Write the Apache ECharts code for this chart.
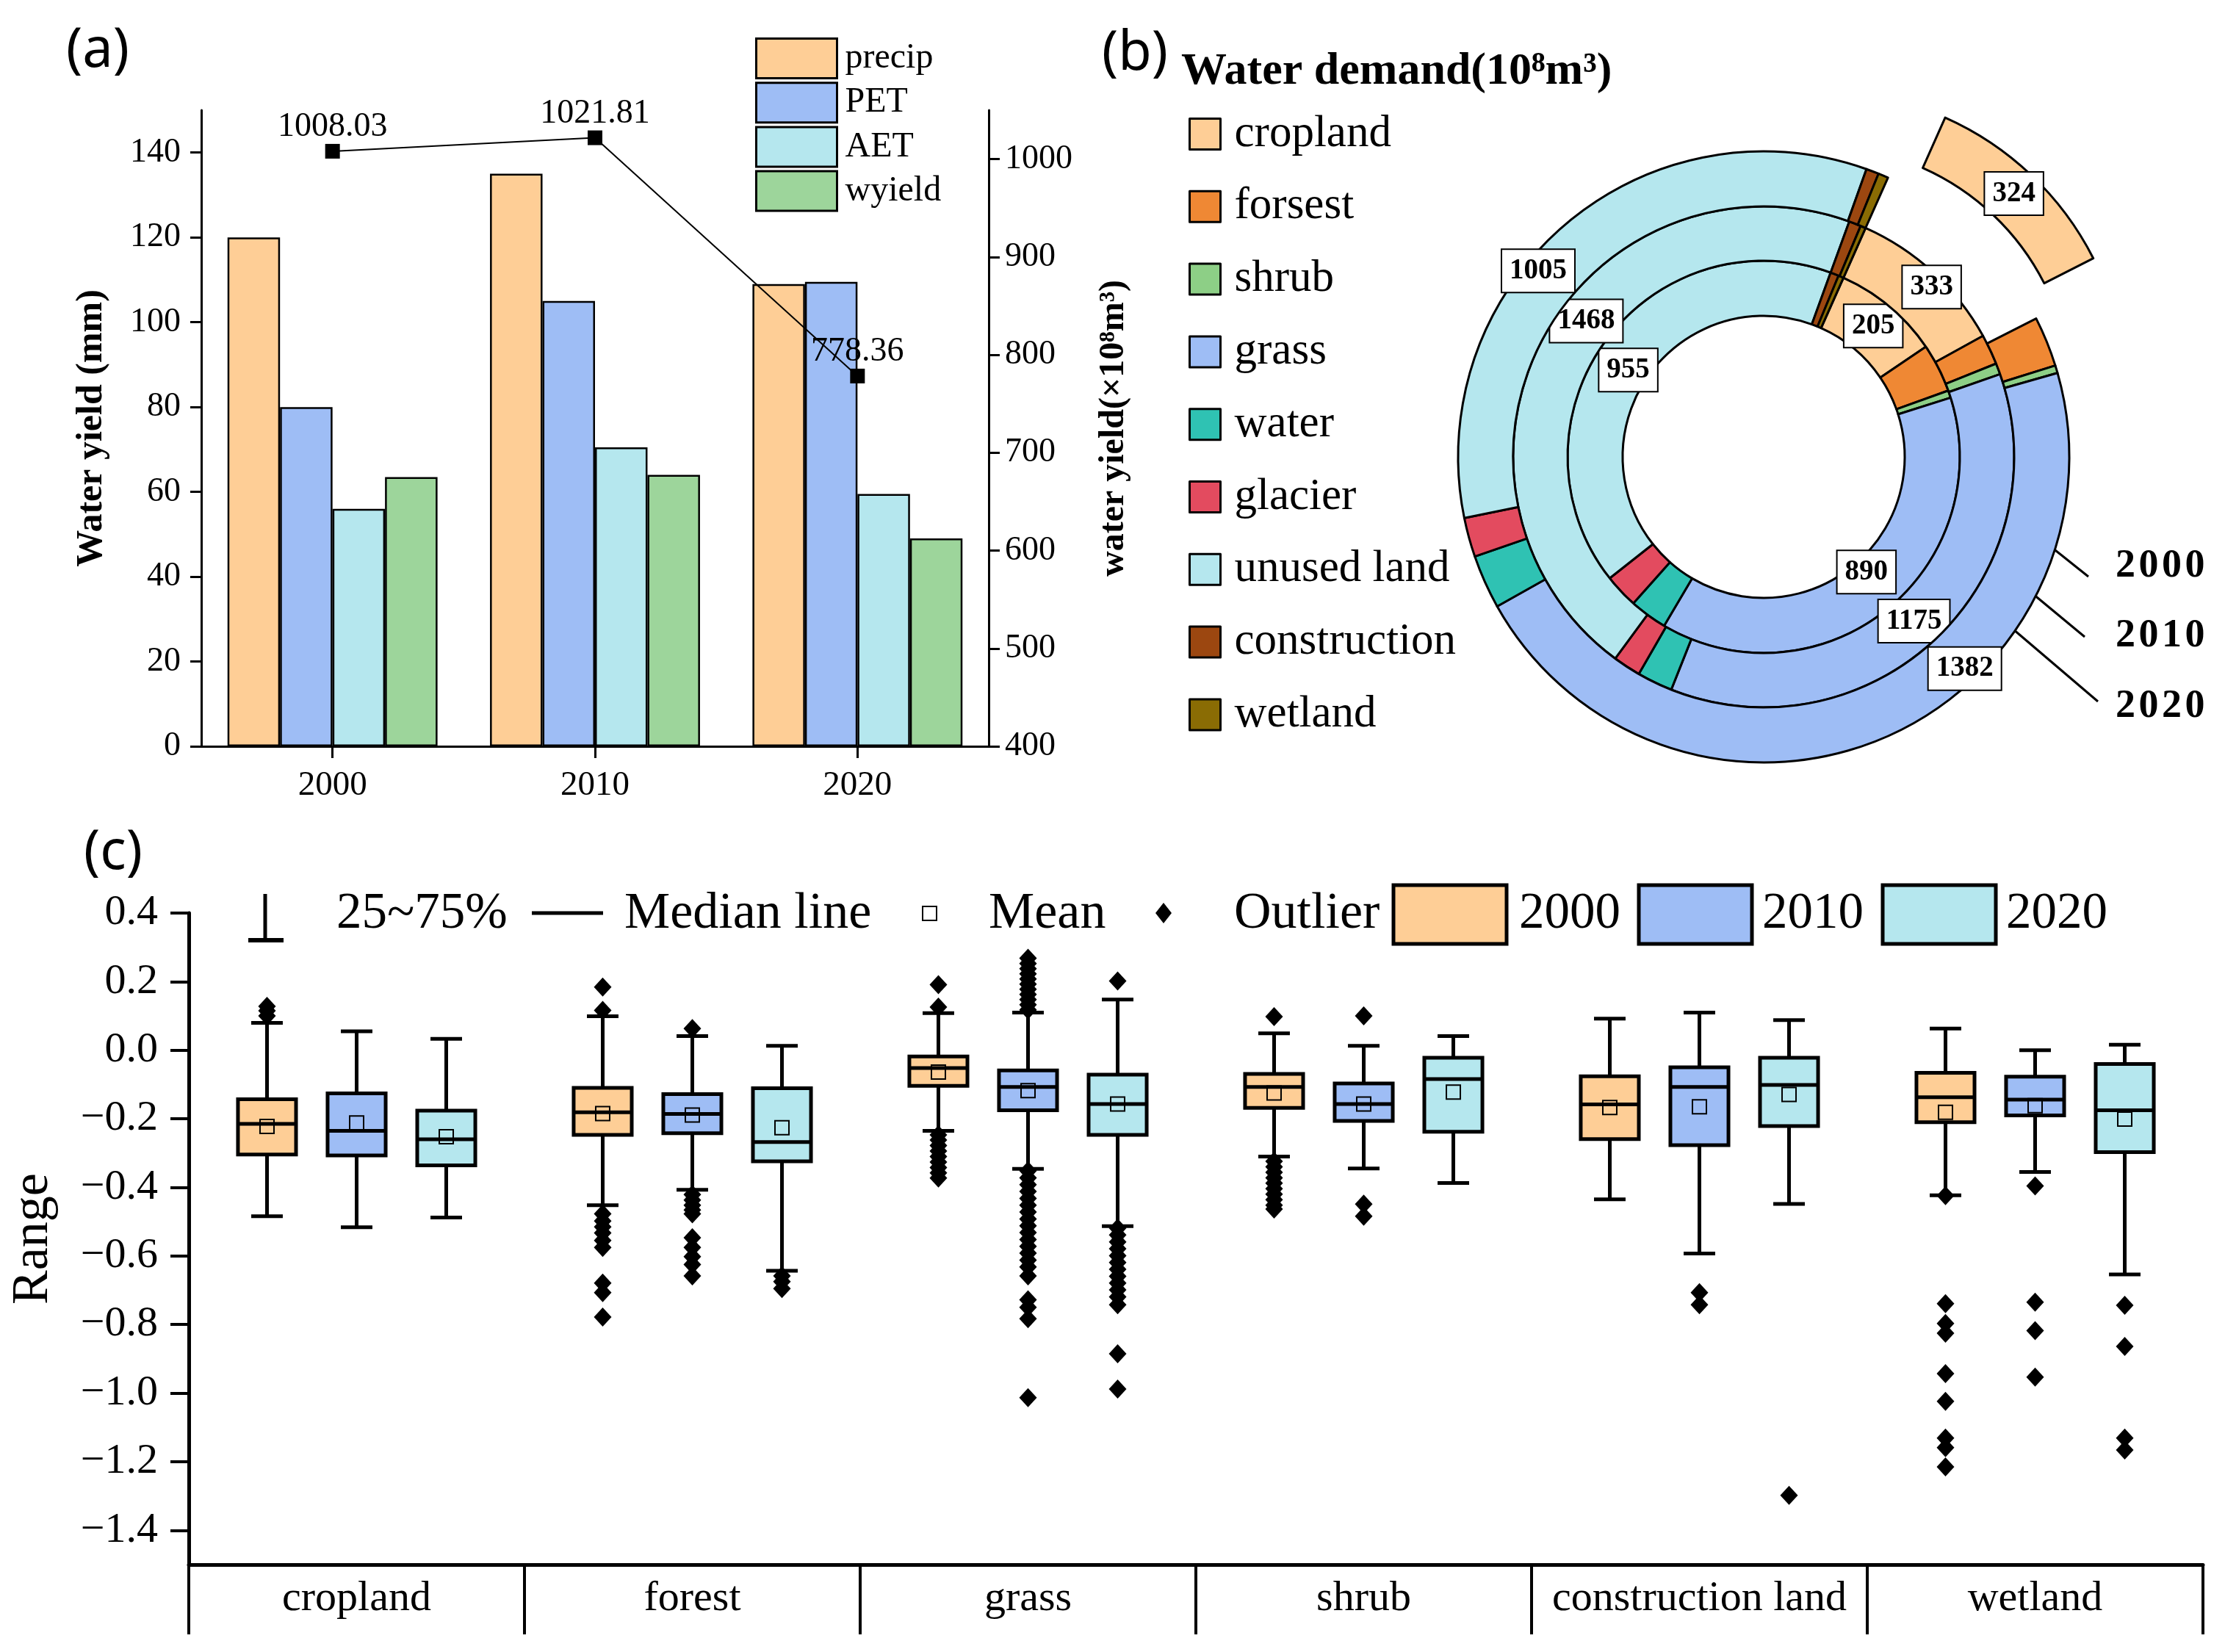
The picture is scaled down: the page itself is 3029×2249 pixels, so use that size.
<!DOCTYPE html>
<html><head><meta charset="utf-8">
<script src="https://cdn.jsdelivr.net/npm/echarts@6/dist/echarts.min.js"></script>
<style>html,body{margin:0;padding:0;background:#fff}#c{width:3029px;height:2249px}</style>
</head><body><div id="c"></div>
<script>
// ---------- Panel (a) ----------
const years = ['2000', '2010', '2020'];
const precip = [120, 135, 109];
const pet = [80, 105, 109.5];
const aet = [56, 70.5, 59.5];
const wyield = [63.5, 64, 49];
const waterYieldTotal = [1008.03, 1021.81, 778.36];
const leftTicks = [0, 20, 40, 60, 80, 100, 120, 140];
const rightTicks = [400, 500, 600, 700, 800, 900, 1000];

// ---------- Panel (b) ----------
const landTypes = ['cropland', 'forsest', 'shrub', 'grass', 'water', 'glacier', 'unused land', 'construction', 'wetland'];
const demand2000 = [205, 93, 14, 890, 72, 65, 955, 16, 10];
const demand2010 = [333, 63, 23, 1175, 74, 58, 1468, 25, 11];
const demand2020 = [324, 79, 12, 1382, 85, 62, 1005, 20, 16];
const labelledTypes = ['cropland', 'grass', 'unused land'];
const ringYears = ['2000', '2010', '2020'];

// ---------- Panel (c) ----------
const boxCategories = ['cropland', 'forest', 'grass', 'shrub', 'construction land', 'wetland'];
const rangeTicks = [-1.4, -1.2, -1.0, -0.8, -0.6, -0.4, -0.2, 0.0, 0.2, 0.4];
// each row: [lower whisker, Q1, median, Q3, upper whisker, mean]
const box2000 = [
  [-0.484, -0.304, -0.215, -0.143, 0.080, -0.222],
  [-0.452, -0.247, -0.181, -0.110, 0.099, -0.185],
  [-0.235, -0.104, -0.052, -0.018, 0.108, -0.064],
  [-0.310, -0.168, -0.107, -0.069, 0.049, -0.125],
  [-0.435, -0.259, -0.158, -0.076, 0.092, -0.167],
  [-0.423, -0.210, -0.137, -0.066, 0.063, -0.181]
];
const box2010 = [
  [-0.516, -0.307, -0.235, -0.126, 0.055, -0.212],
  [-0.407, -0.242, -0.186, -0.128, 0.041, -0.189],
  [-0.346, -0.175, -0.107, -0.059, 0.110, -0.118],
  [-0.345, -0.206, -0.157, -0.097, 0.013, -0.157],
  [-0.593, -0.277, -0.107, -0.050, 0.110, -0.165],
  [-0.355, -0.190, -0.144, -0.077, 0.000, -0.162]
];
const box2020 = [
  [-0.488, -0.336, -0.260, -0.176, 0.033, -0.252],
  [-0.643, -0.324, -0.268, -0.111, 0.013, -0.226],
  [-0.513, -0.247, -0.157, -0.071, 0.148, -0.157],
  [-0.387, -0.238, -0.084, -0.022, 0.041, -0.122],
  [-0.448, -0.221, -0.101, -0.022, 0.088, -0.129],
  [-0.654, -0.297, -0.175, -0.040, 0.016, -0.201]
];
// outliers: [category index, value]
const out2000 = [
  [0, 0.128], [0, 0.115], [0, 0.100],
  [1, 0.184], [1, 0.116], [1, -0.477], [1, -0.498], [1, -0.515], [1, -0.533], [1, -0.555], [1, -0.575], [1, -0.679], [1, -0.707], [1, -0.778],
  [2, 0.191], [2, 0.126], [2, -0.247], [2, -0.262], [2, -0.278], [2, -0.294], [2, -0.31], [2, -0.326], [2, -0.342], [2, -0.358], [2, -0.373],
  [3, 0.098], [3, -0.324], [3, -0.34], [3, -0.356], [3, -0.372], [3, -0.388], [3, -0.404], [3, -0.42], [3, -0.436], [3, -0.452], [3, -0.463],
  [5, -0.424], [5, -0.739], [5, -0.797], [5, -0.825], [5, -0.943], [5, -1.024], [5, -1.131], [5, -1.159], [5, -1.215]
];
const out2010 = [
  [1, 0.063], [1, -0.421], [1, -0.437], [1, -0.452], [1, -0.466], [1, -0.477], [1, -0.547], [1, -0.575], [1, -0.602], [1, -0.625], [1, -0.658],
  [2, 0.118], [2, 0.133], [2, 0.148], [2, 0.163], [2, 0.178], [2, 0.193], [2, 0.208], [2, 0.223], [2, 0.238], [2, 0.253], [2, 0.268],
  [2, -0.352], [2, -0.372], [2, -0.392], [2, -0.412], [2, -0.432], [2, -0.452], [2, -0.472], [2, -0.492], [2, -0.512], [2, -0.532],
  [2, -0.552], [2, -0.572], [2, -0.592], [2, -0.612], [2, -0.632], [2, -0.658], [2, -0.728], [2, -0.75], [2, -0.783], [2, -1.013],
  [3, 0.100], [3, -0.449], [3, -0.484],
  [4, -0.707], [4, -0.742],
  [5, -0.396], [5, -0.735], [5, -0.818], [5, -0.953]
];
const out2020 = [
  [1, -0.658], [1, -0.675], [1, -0.695],
  [2, 0.202], [2, -0.519], [2, -0.539], [2, -0.559], [2, -0.579], [2, -0.599], [2, -0.619], [2, -0.639], [2, -0.659],
  [2, -0.679], [2, -0.699], [2, -0.719], [2, -0.742], [2, -0.885], [2, -0.988],
  [4, -1.298],
  [5, -0.744], [5, -0.864], [5, -1.131], [5, -1.166]
];

const SERIF = '"Liberation Serif", "Times New Roman", serif';
const SANS = '"Noto Sans", "DejaVu Sans", sans-serif';
const C_CROP = '#FECE96', C_PET = '#9EBDF5', C_AET = '#B5E7EE', C_WY = '#9DD59B';
const landColors = ['#FECE96', '#EF8834', '#8DCF86', '#9EBDF5', '#2FC2B3', '#E34B5F', '#B5E7EE', '#9C4710', '#8A6C04'];
const boxColors = [C_CROP, C_PET, C_AET];
// label nudges (pixels) for the value boxes on each ring, keyed by slice index
const labelNudge = [
  {0: [0, 0], 3: [-5, -25], 6: [4, 18]},
  {0: [21, -5], 3: [-8, 2], 6: [29, -40]},
  {0: [0, 0], 3: [127, -64], 6: [-57, 35]}
];

const chart = echarts.init(document.getElementById('c'), null, {renderer: 'canvas'});

function pieData(vals, explodeFirst) {
  return vals.map((v, i) => ({
    name: landTypes[i],
    value: v,
    selected: explodeFirst && i === 0,
    itemStyle: {color: landColors[i]},
    label: {show: labelledTypes.indexOf(landTypes[i]) >= 0}
  }));
}
const pieLabel = {
  show: false, position: 'inside', rotate: 0, formatter: '{c}',
  color: '#000', fontFamily: SERIF, fontWeight: 'bold', fontSize: 39, lineHeight: 39,
  backgroundColor: '#fff', borderColor: '#000', borderWidth: 2, padding: [10, 10, 8, 10]
};
const ringRadii = [[192, 267], [267, 341], [341, 416]];
const ringData = [demand2000, demand2010, demand2020];
const pieSeries = ringData.map((d, k) => ({
  type: 'pie', name: ringYears[k], center: [2401, 622], radius: ringRadii[k],
  startAngle: 66, clockwise: true, avoidLabelOverlap: false,
  selectedMode: k === 2 ? 'single' : false, selectedOffset: 113,
  itemStyle: {borderColor: '#000', borderWidth: 3},
  label: pieLabel, labelLine: {show: false},
  labelLayout: function (p) {
    const n = labelNudge[k][p.dataIndex] || [0, 0];
    return {dx: n[0], dy: n[1], hideOverlap: false, moveOverlap: null};
  },
  emphasis: {disabled: true},
  z: 3 + k,
  data: pieData(d, k === 2)
}));

function boxRender(yi) {
  return function (params, api) {
    const cat = api.value(0);
    const band = api.size([1, 0])[0];
    const cx = api.coord([cat, 0])[0] + (yi - 1) * 0.267 * band;
    const Y = v => api.coord([cat, v])[1];
    const low = Y(api.value(1)), q1 = Y(api.value(2)), med = Y(api.value(3)),
      q3 = Y(api.value(4)), high = Y(api.value(5)), mean = Y(api.value(6));
    const bw = band * 0.173, cw = band * 0.094;
    const ls = {stroke: '#000', lineWidth: 5};
    return {
      type: 'group', children: [
        {type: 'line', shape: {x1: cx, y1: high, x2: cx, y2: q3}, style: ls},
        {type: 'line', shape: {x1: cx, y1: q1, x2: cx, y2: low}, style: ls},
        {type: 'line', shape: {x1: cx - cw / 2, y1: high, x2: cx + cw / 2, y2: high}, style: ls},
        {type: 'line', shape: {x1: cx - cw / 2, y1: low, x2: cx + cw / 2, y2: low}, style: ls},
        {type: 'rect', shape: {x: cx - bw / 2, y: q3, width: bw, height: q1 - q3}, style: {fill: boxColors[yi], stroke: '#000', lineWidth: 5}},
        {type: 'line', shape: {x1: cx - bw / 2, y1: med, x2: cx + bw / 2, y2: med}, style: ls},
        {type: 'rect', shape: {x: cx - 9.5, y: mean - 9.5, width: 19, height: 19}, style: {fill: 'none', stroke: '#000', lineWidth: 2}}
      ]
    };
  };
}
function outRender(yi) {
  return function (params, api) {
    const cat = api.value(0);
    const band = api.size([1, 0])[0];
    const p = api.coord([cat, api.value(1)]);
    const cx = p[0] + (yi - 1) * 0.267 * band, cy = p[1];
    return {type: 'polygon', shape: {points: [[cx, cy - 13], [cx + 12, cy], [cx, cy + 13], [cx - 12, cy]]}, style: {fill: '#000'}};
  };
}
const boxSets = [box2000, box2010, box2020];
const outSets = [out2000, out2010, out2020];
const boxSeries = [];
boxSets.forEach((b, yi) => {
  boxSeries.push({
    type: 'custom', name: 'box' + ringYears[yi], xAxisIndex: 1, yAxisIndex: 2,
    renderItem: boxRender(yi), encode: {x: 0, y: [1, 2, 3, 4, 5, 6]},
    data: b.map((r, i) => [i].concat(r)), z: 3
  });
  boxSeries.push({
    type: 'custom', name: 'out' + ringYears[yi], xAxisIndex: 1, yAxisIndex: 2,
    renderItem: outRender(yi), encode: {x: 0, y: 1},
    data: outSets[yi], z: 4
  });
});

const barBase = {type: 'bar', xAxisIndex: 0, yAxisIndex: 0, barGap: '0%', barCategoryGap: '20%',
  itemStyle: {borderColor: '#000', borderWidth: 2.5}, emphasis: {disabled: true}};

const txt = (x, y, s, size, extra) => Object.assign({type: 'text', x: x, y: y,
  style: Object.assign({text: s, fontSize: size, fontFamily: SERIF, fill: '#000', verticalAlign: 'middle', align: 'left'}, extra || {})});
const ln = (x1, y1, x2, y2, w) => ({type: 'line', shape: {x1, y1, x2, y2}, style: {stroke: '#000', lineWidth: w}});
const hs = '\u200A';

const option = {
  animation: false,
  backgroundColor: '#fff',
  textStyle: {fontFamily: SERIF, color: '#000'},
  grid: [
    {left: 274, top: 150, width: 1072, height: 866},
    {left: 257, top: 1243, width: 2742, height: 887}
  ],
  legend: [
    {data: ['precip', 'PET', 'AET', 'wyield'], orient: 'vertical', left: 1023, top: 46,
      itemWidth: 110, itemHeight: 54, itemGap: 3.2, icon: 'rect',
      itemStyle: {borderColor: '#000', borderWidth: 3},
      textStyle: {fontSize: 48, fontFamily: SERIF, color: '#000', lineHeight: 54, padding: [0, 0, 0, 6]}},
    {data: landTypes, orient: 'vertical', left: 1613, top: 147,
      itemWidth: 42, itemHeight: 42, itemGap: 37.8, icon: 'rect',
      itemStyle: {borderColor: '#000', borderWidth: 3},
      textStyle: {fontSize: 61, fontFamily: SERIF, color: '#000', lineHeight: 42, padding: [0, 0, 0, 14]}}
  ],
  xAxis: [
    {type: 'category', gridIndex: 0, data: years, boundaryGap: true,
      axisLine: {show: true, onZero: false, lineStyle: {color: '#000', width: 3}},
      axisTick: {show: true, alignWithLabel: true, length: 16, lineStyle: {color: '#000', width: 3}},
      axisLabel: {fontSize: 47, color: '#000', fontFamily: SERIF, margin: 30}},
    {type: 'category', gridIndex: 1, data: boxCategories, boundaryGap: true,
      axisLine: {show: true, onZero: false, lineStyle: {color: '#000', width: 5}},
      axisTick: {show: true, interval: 0, inside: false, length: 95, lineStyle: {color: '#000', width: 4}},
      axisLabel: {interval: 0, fontSize: 58, color: '#000', fontFamily: SERIF, margin: 18}}
  ],
  yAxis: [
    {type: 'value', gridIndex: 0, min: 0, max: 150, position: 'left',
      name: 'Water yield (mm)', nameLocation: 'middle', nameRotate: 90, nameGap: 124,
      nameTextStyle: {fontSize: 50, fontWeight: 'bold', fontFamily: SERIF, color: '#000'},
      axisLine: {show: true, lineStyle: {color: '#000', width: 3}},
      axisTick: {show: true, length: 15, customValues: leftTicks, lineStyle: {color: '#000', width: 3}},
      axisLabel: {fontSize: 46, color: '#000', fontFamily: SERIF, margin: 28, customValues: leftTicks,
        formatter: v => String(v)},
      splitLine: {show: false}},
    {type: 'value', gridIndex: 0, min: 400, max: 1050, position: 'right',
      name: 'water yield(×10⁸m³)', nameLocation: 'middle', nameRotate: 90, nameGap: 147,
      nameTextStyle: {fontSize: 48, fontWeight: 'bold', fontFamily: SERIF, color: '#000'},
      axisLine: {show: true, lineStyle: {color: '#000', width: 3}},
      axisTick: {show: true, length: 15, customValues: rightTicks, lineStyle: {color: '#000', width: 3}},
      axisLabel: {fontSize: 46, color: '#000', fontFamily: SERIF, margin: 22, customValues: rightTicks,
        formatter: v => String(v)},
      splitLine: {show: false}},
    {type: 'value', gridIndex: 1, min: -1.5, max: 0.4,
      name: 'Range', nameLocation: 'middle', nameRotate: 90, nameGap: 176,
      nameTextStyle: {fontSize: 70, fontFamily: SERIF, color: '#000'},
      axisLine: {show: true, lineStyle: {color: '#000', width: 5}},
      axisTick: {show: true, length: 25, customValues: rangeTicks, lineStyle: {color: '#000', width: 4}},
      axisLabel: {fontSize: 58, color: '#000', fontFamily: SERIF, margin: 42, customValues: rangeTicks,
        formatter: v => (v < -1e-9 ? '\u2212' : '') + Math.abs(v).toFixed(1)},
      splitLine: {show: false}}
  ],
  series: [
    Object.assign({}, barBase, {name: 'precip', data: precip, itemStyle: Object.assign({}, barBase.itemStyle, {color: C_CROP})}),
    Object.assign({}, barBase, {name: 'PET', data: pet, itemStyle: Object.assign({}, barBase.itemStyle, {color: C_PET})}),
    Object.assign({}, barBase, {name: 'AET', data: aet, itemStyle: Object.assign({}, barBase.itemStyle, {color: C_AET})}),
    Object.assign({}, barBase, {name: 'wyield', data: wyield, itemStyle: Object.assign({}, barBase.itemStyle, {color: C_WY})}),
    {type: 'line', name: 'total', xAxisIndex: 0, yAxisIndex: 1, data: waterYieldTotal,
      symbol: 'rect', symbolSize: 20, itemStyle: {color: '#000'}, lineStyle: {color: '#000', width: 2},
      label: {show: true, position: 'top', distance: 0, fontSize: 46, fontFamily: SERIF, color: '#000',
        formatter: p => p.value.toFixed(2)}, z: 5, emphasis: {disabled: true}}
  ].concat(pieSeries).concat(boxSeries),
  graphic: {elements: [
    txt(90, 70, '(a)', 74, {fontFamily: SANS}),
    txt(1500, 74, '(b)', 74, {fontFamily: SANS}),
    txt(114, 1162, '(c)', 74, {fontFamily: SANS}),
    txt(1608, 98, 'Water demand(10⁸m³)', 62, {fontWeight: 'bold'}),
    // year ring annotations
    ln(2635, 619, 2843, 785, 3), ln(2674, 731, 2838, 867, 3), ln(2707, 828, 2856, 955, 3),
    txt(2880, 771, '2' + hs + '0' + hs + '0' + hs + '0', 54, {fontWeight: 'bold'}),
    txt(2880, 866, '2' + hs + '0' + hs + '1' + hs + '0', 54, {fontWeight: 'bold'}),
    txt(2880, 962, '2' + hs + '0' + hs + '2' + hs + '0', 54, {fontWeight: 'bold'}),
    // (c) legend
    ln(361, 1217, 361, 1280, 5), ln(338, 1280, 386, 1280, 6),
    txt(458, 1245, '25~75%', 69),
    ln(724, 1243, 821, 1243, 5),
    txt(850, 1245, 'Median line', 70),
    {type: 'rect', shape: {x: 1256, y: 1234, width: 19, height: 19}, style: {fill: 'none', stroke: '#000', lineWidth: 2}},
    txt(1346, 1245, 'Mean', 70),
    {type: 'polygon', shape: {points: [[1584, 1229], [1595, 1243], [1584, 1257], [1573, 1243]]}, style: {fill: '#000'}},
    txt(1680, 1245, 'Outlier', 70),
    {type: 'rect', shape: {x: 1897, y: 1205, width: 154, height: 80}, style: {fill: C_CROP, stroke: '#000', lineWidth: 5}},
    txt(2068, 1245, '2000', 69),
    {type: 'rect', shape: {x: 2231, y: 1205, width: 154, height: 80}, style: {fill: C_PET, stroke: '#000', lineWidth: 5}},
    txt(2399, 1245, '2010', 69),
    {type: 'rect', shape: {x: 2563, y: 1205, width: 154, height: 80}, style: {fill: C_AET, stroke: '#000', lineWidth: 5}},
    txt(2731, 1245, '2020', 69)
  ]}
};
chart.setOption(option);
</script>
</body></html>
